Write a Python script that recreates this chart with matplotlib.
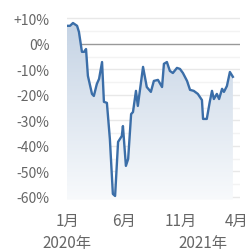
import numpy as np
import matplotlib
matplotlib.use('Agg')
import matplotlib.pyplot as plt
from matplotlib.colors import LinearSegmentedColormap

plt.rcParams['font.family'] = ['Noto Sans CJK JP', 'DejaVu Sans']

# days since 2020-01-01, change in %
days = [0, 8, 16, 27, 32, 40, 46, 51, 56, 67, 72, 80, 86, 94, 99, 107, 115, 123, 129,
        137, 147, 150, 158, 164, 172, 177, 185, 190, 204, 214, 225, 233, 244, 255, 260,
        268, 276, 284, 295, 303, 311, 322, 330, 340, 351, 362, 365, 375, 383, 389, 394,
        402, 408, 416, 421, 429, 437, 445]
values = [7.1, 7.1, 8.2, 7.1, 4.7, -3.1, -3.1, -2.0, -12.5, -19.6, -20.4, -15.7, -13.7,
          -7.1, -22.7, -23.1, -37.3, -58.8, -59.6, -38.4, -36.1, -32.2, -47.8, -45.1,
          -27.5, -26.7, -18.4, -24.3, -9.0, -16.9, -18.8, -14.5, -14.1, -16.9, -7.8, -7.1,
          -10.6, -11.4, -9.4, -9.8, -11.4, -14.5, -18.0, -18.4, -19.6, -22.0, -29.4,
          -29.4, -22.7, -18.4, -21.6, -19.6, -21.6, -17.6, -18.8, -16.5, -11.0, -12.9]

month_ticks = [0, 152, 305, 456]
month_labels = ['1月', '6月', '11月', '4月']
year_ticks = [0, 366]
year_labels = ['2020年', '2021年']
yticks = [10, 0, -10, -20, -30, -40, -50, -60]
ylabels = ['+10%', '0%', '-10%', '-20%', '-30%', '-40%', '-50%', '-60%']

ymin, ymax = -61, 12
xmin, xmax = 0, 464

fig = plt.figure(figsize=(2.51, 2.51), dpi=100)
ax = fig.add_axes([0.267, 0.201, 0.689, 0.742])

# grid
for y in np.arange(-60, 11, 5):
    if y == 0:
        continue
    c = '#e8e8e8' if y % 10 == 0 else '#f3f3f3'
    ax.axhline(y, color=c, lw=1, zorder=0)
ax.axhline(0, color='#999999', lw=1, zorder=1)

# gradient fill under the line
poly = ax.fill_between(days, values, ymin, color='none', lw=0)
cmap = LinearSegmentedColormap.from_list('g', ['#f8fafc', '#c2d1e3'])
grad = np.linspace(0, 1, 256).reshape(-1, 1)
im = ax.imshow(grad, cmap=cmap, origin='lower', aspect='auto',
               extent=[days[0], days[-1], ymin, ymax], zorder=1)
im.set_clip_path(poly.get_paths()[0], transform=ax.transData)

ax.plot(days, values, color='#3b6ea8', lw=1.7, zorder=3, solid_joinstyle='round')

ax.set_xlim(xmin, xmax)
ax.set_ylim(ymin, ymax)
for s in ax.spines.values():
    s.set_visible(False)

ax.set_yticks(yticks)
ax.set_yticklabels(ylabels)
ax.set_xticks(month_ticks)
ax.set_xticklabels(month_labels)
ax.tick_params(axis='both', length=0, colors='#666666')
ax.tick_params(axis='y', pad=12.5, labelsize=10)
ax.tick_params(axis='x', pad=9, labelsize=11)

for x, lab in zip(year_ticks, year_labels):
    ax.annotate(lab, xy=(x, 0), xycoords=('data', 'axes fraction'),
                xytext=(0, -25), textcoords='offset points',
                ha='center', va='top', fontsize=11, color='#666666')

fig.savefig('out.png', dpi=100)
